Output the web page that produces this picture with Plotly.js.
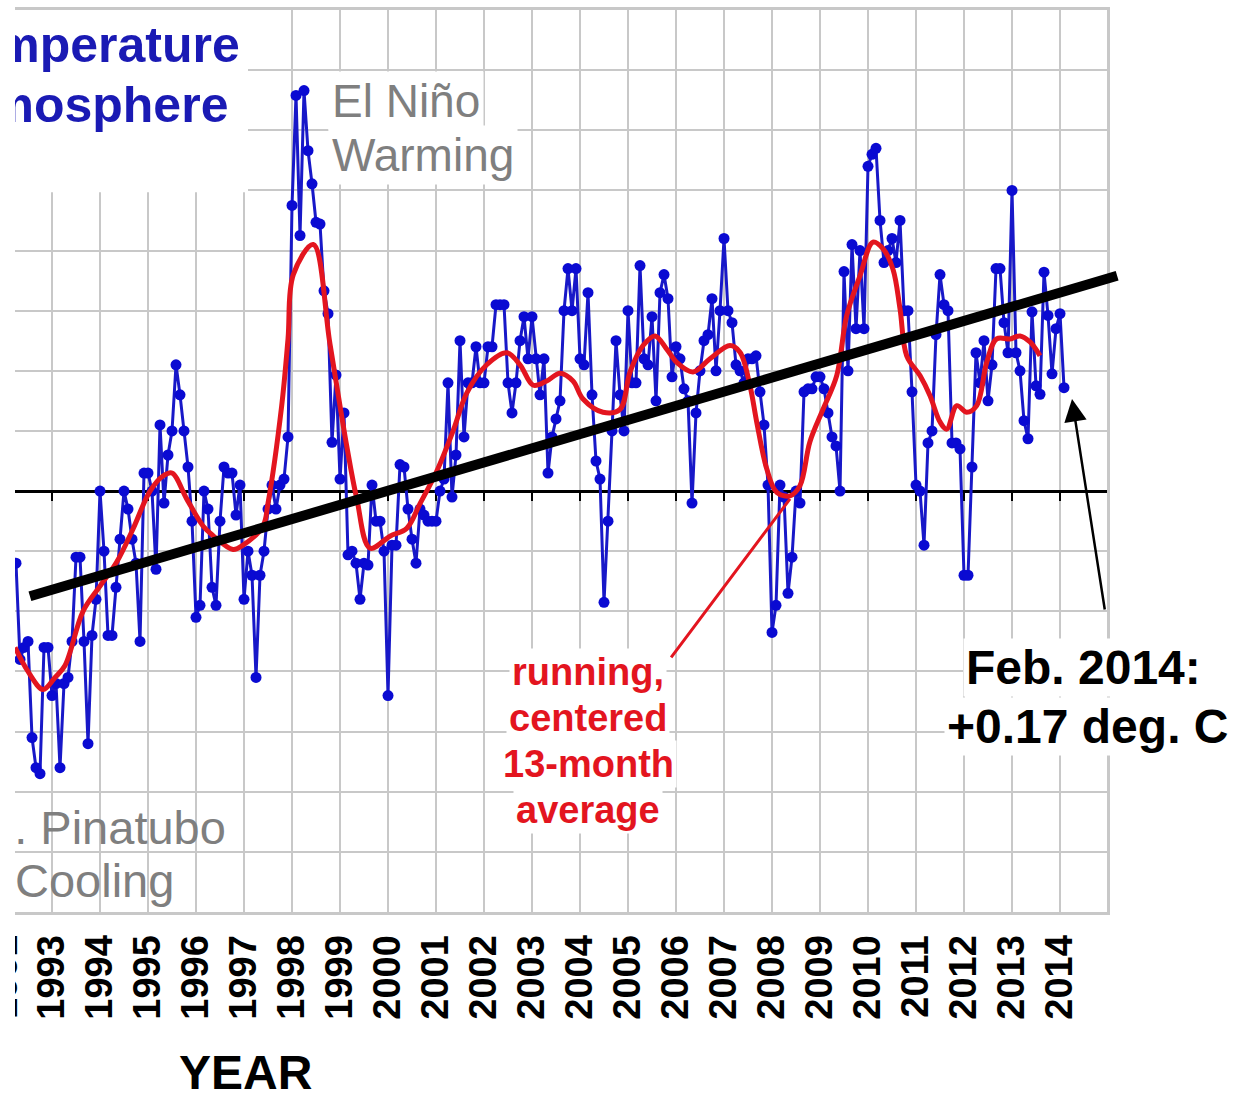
<!DOCTYPE html>
<html>
<head>
<meta charset="utf-8">
<script src="https://cdn.plot.ly/plotly-3.0.1.min.js"></script>
<style>
  html, body { margin: 0; padding: 0; background: #ffffff; }
  #wrap { position: absolute; left: 15px; top: 0; width: 1225px; height: 1093px; overflow: hidden; background: #ffffff; }
  #chart { width: 1225px; height: 1093px; }
</style>
</head>
<body>
<div id="wrap"><div id="chart"></div></div>
<script>
// Monthly anomalies (deg C), Jan..Dec; null = not shown in the cropped view
const y1992 = [null, null, null, -0.12, -0.28, -0.26, -0.25, -0.41, -0.46, -0.47, -0.26, -0.26];
const y1993 = [-0.34, -0.32, -0.46, -0.32, -0.31, -0.25, -0.11, -0.11, -0.25, -0.42, -0.24, -0.18];
const y1994 = [0.00, -0.10, -0.24, -0.24, -0.16, -0.08, 0.00, -0.03, -0.08, -0.12, -0.25, 0.03];
const y1995 = [0.03, 0.00, -0.13, 0.11, -0.02, 0.06, 0.10, 0.21, 0.16, 0.10, 0.04, -0.05];
const y1996 = [-0.21, -0.19, 0.00, -0.03, -0.16, -0.19, -0.05, 0.04, 0.03, 0.03, -0.04, 0.01];
const y1997 = [-0.18, -0.10, -0.14, -0.31, -0.14, -0.10, -0.03, 0.01, -0.03, 0.01, 0.02, 0.09];
const y1998 = [0.475, 0.658, 0.425, 0.666, 0.566, 0.511, 0.447, 0.444, 0.333, 0.295, 0.081, 0.193];
const y1999 = [0.02, 0.13, -0.106, -0.10, -0.12, -0.18, -0.12, -0.123, 0.01, -0.05, -0.05, -0.10];
const y2000 = [-0.34, -0.09, -0.09, 0.044, 0.04, -0.03, -0.08, -0.12, -0.03, -0.04, -0.05, -0.05];
const y2001 = [-0.05, 0.00, 0.02, 0.18, -0.01, 0.06, 0.25, 0.09, 0.18, 0.18, 0.24, 0.18];
const y2002 = [0.18, 0.24, 0.24, 0.31, 0.31, 0.31, 0.18, 0.13, 0.18, 0.25, 0.29, 0.22];
const y2003 = [0.29, 0.22, 0.16, 0.22, 0.03, 0.09, 0.12, 0.15, 0.30, 0.37, 0.30, 0.37];
const y2004 = [0.22, 0.21, 0.33, 0.16, 0.05, 0.02, -0.185, -0.05, 0.10, 0.25, 0.16, 0.10];
const y2005 = [0.30, 0.18, 0.18, 0.375, 0.22, 0.21, 0.29, 0.15, 0.33, 0.36, 0.32, 0.19];
const y2006 = [0.24, 0.22, 0.17, 0.15, -0.02, 0.13, 0.20, 0.25, 0.26, 0.32, 0.20, 0.30];
const y2007 = [0.42, 0.30, 0.28, 0.21, 0.20, 0.18, 0.22, 0.22, 0.225, 0.165, 0.11, 0.01];
const y2008 = [-0.235, -0.19, 0.01, -0.01, -0.17, -0.11, 0.00, -0.02, 0.165, 0.17, 0.17, 0.19];
const y2009 = [0.19, 0.17, 0.13, 0.09, 0.075, 0.00, 0.365, 0.20, 0.41, 0.27, 0.40, 0.27];
const y2010 = [0.54, 0.56, 0.57, 0.45, 0.38, 0.40, 0.42, 0.38, 0.45, 0.30, 0.30, 0.165];
const y2011 = [0.01, 0.00, -0.09, 0.08, 0.10, 0.26, 0.36, 0.31, 0.30, 0.08, 0.08, 0.07];
const y2012 = [-0.14, -0.14, 0.04, 0.23, 0.18, 0.25, 0.15, 0.21, 0.37, 0.37, 0.28, 0.23];
const y2013 = [0.50, 0.23, 0.20, 0.117, 0.087, 0.298, 0.175, 0.161, 0.364, 0.292, 0.195, 0.27];
const y2014 = [0.295, 0.172];

const monthlyByYear = [
  [1992, y1992], [1993, y1993], [1994, y1994], [1995, y1995], [1996, y1996],
  [1997, y1997], [1998, y1998], [1999, y1999], [2000, y2000], [2001, y2001],
  [2002, y2002], [2003, y2003], [2004, y2004], [2005, y2005], [2006, y2006],
  [2007, y2007], [2008, y2008], [2009, y2009], [2010, y2010], [2011, y2011],
  [2012, y2012], [2013, y2013], [2014, y2014]
];

// Running, centered 13-month average
const runT = [1992.229, 1992.5, 1992.813, 1993.063, 1993.271, 1993.646, 1994.0, 1994.348, 1994.688,
  1995.042, 1995.313, 1995.5, 1995.806, 1996.146, 1996.354, 1996.771, 1996.979, 1997.396, 1997.5,
  1997.785, 1997.917, 1998.027, 1998.444, 1998.79, 1999.14, 1999.35, 1999.625, 2000.04, 2000.39,
  2000.667, 2001.015, 2001.36, 2001.64, 2002.056, 2002.473, 2002.75, 2003.027, 2003.306, 2003.583,
  2003.854, 2004.063, 2004.479, 2004.833, 2005.042, 2005.313, 2005.563, 2005.806, 2006.015, 2006.354,
  2006.708, 2007.125, 2007.333, 2007.542, 2007.681, 2007.89, 2008.098, 2008.375, 2008.583, 2008.79,
  2009.063, 2009.348, 2009.556, 2009.833, 2010.104, 2010.313, 2010.52, 2010.667, 2010.806, 2011.083,
  2011.29, 2011.5, 2011.64, 2011.85, 2012.056, 2012.265, 2012.473, 2012.68, 2012.958, 2013.167,
  2013.375, 2013.583];
const runV = [-0.26, -0.30, -0.33, -0.31, -0.29, -0.20, -0.158, -0.118, -0.063,
  0.0, 0.025, 0.03, -0.013, -0.058, -0.074, -0.097, -0.09, -0.058, -0.02,
  0.142, 0.253, 0.36, 0.41, 0.245, 0.075, -0.013, -0.095, -0.075, -0.062,
  -0.021, 0.033, 0.101, 0.163, 0.21, 0.23, 0.21, 0.176, 0.183, 0.196,
  0.183, 0.153, 0.131, 0.136, 0.198, 0.242, 0.258, 0.236, 0.214, 0.198,
  0.22, 0.242, 0.231, 0.175, 0.115, 0.037, -0.002, -0.008, 0.009, 0.082,
  0.136, 0.192, 0.292, 0.358, 0.414, 0.403, 0.369, 0.303, 0.225, 0.192,
  0.159, 0.115, 0.103, 0.142, 0.131, 0.142, 0.214, 0.253, 0.253, 0.258,
  0.248, 0.225];

// Hand-drawn trend line end points
const trendT = [1992.54, 2015.19];
const trendV = [-0.175, 0.358];

// Year tick labels
const tickYears = [1993, 1994, 1995, 1996, 1997, 1998, 1999, 2000, 2001, 2002, 2003,
  2004, 2005, 2006, 2007, 2008, 2009, 2010, 2011, 2012, 2013, 2014];
const tickLabels = tickYears.map(y => '<b>' + y + '</b>');

const mx = [], my = [];
monthlyByYear.forEach(([yr, vals]) => {
  vals.forEach((v, i) => {
    if (v !== null) { mx.push(yr + i / 12); my.push(v); }
  });
});

const FONT = 'Liberation Sans, Arial, Helvetica, sans-serif';
const X0 = 1992.229, PXY = 48;          // axis start, pixels per year
const mainW = 1092, totalW = 1110;
const dMain = mainW / totalW;

const traces = [
  { x: mx, y: my, type: 'scatter', mode: 'lines+markers', xaxis: 'x', yaxis: 'y',
    line: { color: '#1818c8', width: 3 },
    marker: { color: '#0a0ad2', size: 11 }, hoverinfo: 'skip' },
  { x: runT, y: runV, type: 'scatter', mode: 'lines', xaxis: 'x', yaxis: 'y',
    line: { color: '#e3151f', width: 5, shape: 'spline', smoothing: 1 }, hoverinfo: 'skip' },
  { x: [], y: [], type: 'scatter', mode: 'lines', xaxis: 'x2', yaxis: 'y', hoverinfo: 'skip' },
  { x: trendT, y: trendV, type: 'scatter', mode: 'lines', xaxis: 'x3', yaxis: 'y2',
    line: { color: '#000000', width: 10 }, hoverinfo: 'skip' }
];

const grid = '#c8c8c8';
const layout = {
  width: 1225, height: 1093,
  margin: { l: 0, r: 1225 - totalW, t: 10, b: 181 },
  paper_bgcolor: '#ffffff', plot_bgcolor: 'rgba(0,0,0,0)',
  showlegend: false,
  xaxis: {
    domain: [0, dMain], range: [X0, X0 + mainW / PXY],
    tickmode: 'array', tickvals: tickYears, ticktext: tickLabels, tickangle: -90,
    ticks: '', ticklabelstandoff: 5,
    tickfont: { family: FONT, size: 38, color: '#000000' },
    showgrid: true, gridcolor: grid, gridwidth: 2, zeroline: false,
    showline: true, mirror: true, linecolor: grid, linewidth: 3
  },
  xaxis2: {
    overlaying: 'x', anchor: 'free', position: 0.7 / 1.5,
    domain: [0, dMain], range: [X0, X0 + mainW / PXY],
    tickmode: 'array', tickvals: tickYears, showticklabels: false,
    ticks: 'outside', ticklen: 8, tickwidth: 2.5, tickcolor: '#000000',
    showgrid: false, zeroline: false, showline: true, linecolor: '#000000', linewidth: 2.5,
    layer: 'below traces'
  },
  xaxis3: {
    domain: [0, 1], range: [X0, X0 + totalW / PXY], anchor: 'y2',
    visible: false, showgrid: false, zeroline: false
  },
  yaxis: {
    range: [-0.7, 0.8], tick0: 0, dtick: 0.1, showticklabels: false, ticks: '',
    showgrid: true, gridcolor: grid, gridwidth: 2, zeroline: false,
    showline: true, side: 'right', linecolor: grid, linewidth: 3
  },
  yaxis2: {
    domain: [0, 1], range: [-0.7, 0.8], anchor: 'x3',
    visible: false, showgrid: false, zeroline: false
  },
  shapes: [
    { type: 'rect', xref: 'x', yref: 'y', x0: X0, x1: 1997.083, y0: 0.497, y1: 0.8,
      fillcolor: '#ffffff', line: { width: 0 }, layer: 'between' }
  ],
  annotations: [
    { xref: 'x', yref: 'y', x: 1996.96, y: 0.742, xanchor: 'right', yanchor: 'middle', showarrow: false,
      text: '<b>UAH Satellite-Based Temperature</b>', font: { family: FONT, size: 50, color: '#1a1ab4' } },
    { xref: 'x', yref: 'y', x: 1996.708, y: 0.642, xanchor: 'right', yanchor: 'middle', showarrow: false,
      text: '<b>of the Global Lower Atmosphere</b>', font: { family: FONT, size: 50, color: '#1a1ab4' } },
    { xref: 'x', yref: 'y', x: 1998.76, y: 0.649, xanchor: 'left', yanchor: 'middle', showarrow: false,
      text: 'El Niño', bgcolor: '#ffffff', borderpad: 3, font: { family: FONT, size: 46, color: '#7f7f7f' } },
    { xref: 'x', yref: 'y', x: 1998.76, y: 0.559, xanchor: 'left', yanchor: 'middle', showarrow: false,
      text: 'Warming', bgcolor: '#ffffff', borderpad: 3, font: { family: FONT, size: 46, color: '#7f7f7f' } },
    { xref: 'x', yref: 'y', x: 1993.88, y: -0.560, xanchor: 'center', yanchor: 'middle', showarrow: false,
      text: 'Mt. Pinatubo', font: { family: FONT, size: 47, color: '#7f7f7f' } },
    { xref: 'x', yref: 'y', x: 1993.88, y: -0.647, xanchor: 'center', yanchor: 'middle', showarrow: false,
      text: 'Cooling', font: { family: FONT, size: 47, color: '#7f7f7f' } },
    { xref: 'x', yref: 'y', x: 2008.375, y: -0.013, ax: -120, ay: 160, showarrow: true,
      arrowhead: 0, arrowwidth: 3, arrowcolor: '#e3151f', text: '', standoff: 0, startstandoff: 0 },
    { xref: 'x', yref: 'y', x: 2004.167, y: -0.301, xanchor: 'center', yanchor: 'middle', showarrow: false,
      text: '<b>running,</b>', bgcolor: '#ffffff', borderpad: 2, font: { family: FONT, size: 38, color: '#e3151f' } },
    { xref: 'x', yref: 'y', x: 2004.167, y: -0.377, xanchor: 'center', yanchor: 'middle', showarrow: false,
      text: '<b>centered</b>', bgcolor: '#ffffff', borderpad: 2, font: { family: FONT, size: 38, color: '#e3151f' } },
    { xref: 'x', yref: 'y', x: 2004.167, y: -0.454, xanchor: 'center', yanchor: 'middle', showarrow: false,
      text: '<b>13-month</b>', bgcolor: '#ffffff', borderpad: 2, font: { family: FONT, size: 38, color: '#e3151f' } },
    { xref: 'x', yref: 'y', x: 2004.167, y: -0.530, xanchor: 'center', yanchor: 'middle', showarrow: false,
      text: '<b>average</b>', bgcolor: '#ffffff', borderpad: 2, font: { family: FONT, size: 38, color: '#e3151f' } },
    { xref: 'x', yref: 'y', x: 2014.25, y: 0.153, ax: 33, ay: 212, showarrow: true,
      arrowhead: 2, arrowsize: 1.8, arrowwidth: 2.5, arrowcolor: '#000000', text: '', standoff: 0, startstandoff: 0 },
    { xref: 'x', yref: 'y', x: 2014.479, y: -0.294, xanchor: 'center', yanchor: 'middle', showarrow: false,
      text: '<b>Feb. 2014:</b>', bgcolor: '#ffffff', borderpad: 2, font: { family: FONT, size: 48, color: '#000000' } },
    { xref: 'x', yref: 'y', x: 2014.583, y: -0.392, xanchor: 'center', yanchor: 'middle', showarrow: false,
      text: '<b>+0.17 deg. C</b>', bgcolor: '#ffffff', borderpad: 2, font: { family: FONT, size: 48, color: '#000000' } },
    { xref: 'paper', yref: 'paper', x: 230 / totalW, y: -(1072 - 912) / 902, xanchor: 'center', yanchor: 'middle',
      showarrow: false, text: '<b>YEAR</b>', font: { family: FONT, size: 48, color: '#000000' } },
    { xref: 'paper', yref: 'paper', x: -11 / totalW, y: -(977 - 912) / 902, xanchor: 'center', yanchor: 'middle',
      showarrow: false, textangle: -90, text: '<b>1992</b>', font: { family: FONT, size: 38, color: '#000000' } }
  ]
};

Plotly.newPlot('chart', traces, layout, { staticPlot: true, displayModeBar: false });
</script>
</body>
</html>
